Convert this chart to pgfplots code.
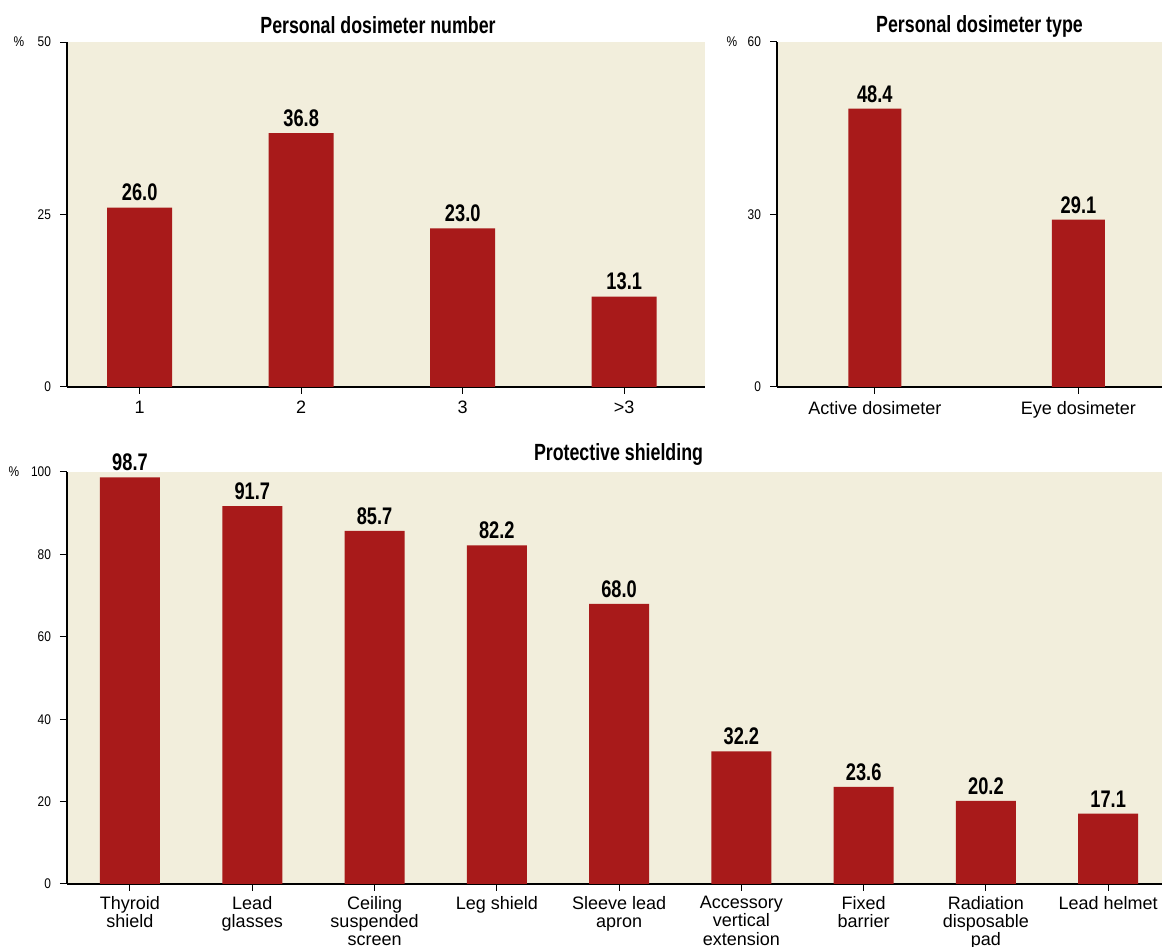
\documentclass[border=0pt]{standalone}
\usepackage{pgfplots}
\pgfplotsset{compat=1.18}
\usepackage{fontspec}
\setmainfont{Liberation Sans}
\newfontfamily\boldcond[FakeStretch=0.76]{Liberation Sans Bold}
\newfontfamily\tickfont[FakeStretch=0.85]{Liberation Sans}
\definecolor{cream}{HTML}{F2EEDC}
\definecolor{barred}{HTML}{A81A1A}
\pgfplotsset{
  myaxis/.style={
    scale only axis,
    axis background/.style={fill=cream},
    axis x line*=bottom, axis y line*=left,
    x axis line style={-, line width=0.8pt},
    y axis line style={-, line width=0.8pt},
    tick align=outside,
    major tick length=3.5pt,
    every tick/.style={black, line width=0.5pt},
    enlarge x limits=false, enlarge y limits=false,
    ymin=0,
    xtick=data,
    /pgf/number format/assume math mode=true,
    yticklabel style={font=\tickfont\fontsize{7}{8}\selectfont, xshift=-1pt},
    xticklabel style={font=\fontsize{9}{9.2}\selectfont, align=center, text depth=0pt},
    ybar,
    clip=false,
    nodes near coords={\pgfmathprintnumber[fixed,fixed zerofill,precision=1]{\pgfplotspointmeta}},
    every node near coord/.append style={font=\boldcond\fontsize{12}{13}\selectfont, inner sep=3pt},
    title style={at={(0.5,1)}, anchor=base, font=\boldcond\fontsize{11.7}{13}\selectfont},
  }
}
\begin{document}
\begin{tikzpicture}
\path[use as bounding box] (0,0) rectangle (581pt,473.5pt);
% Top left
\begin{axis}[myaxis,
  at={(33.5pt,280pt)}, anchor=south west,
  width=319pt, height=172.5pt,
  xmin=-0.45, xmax=3.5, ymax=50,
  ytick={0,25,50},
  xticklabels={1,2,3,>3},
  bar width=32.5pt,
  title={Personal dosimeter number},
  title style={yshift=-1.5pt, xshift=-4pt},
]
\addplot[fill=barred, draw=none] coordinates {(0,26.0) (1,36.8) (2,23.0) (3,13.1)};
\node[font=\tickfont\fontsize{7}{8}\selectfont] at (rel axis cs:0,1) [xshift=-24pt] {\%};
\end{axis}
% Top right
\begin{axis}[myaxis,
  at={(388.5pt,280pt)}, anchor=south west,
  width=192.5pt, height=172.5pt,
  xmin=-0.48, xmax=1.41, ymax=60,
  ytick={0,30,60},
  xticklabels={Active dosimeter,Eye dosimeter},
  bar width=26.5pt,
  title={Personal dosimeter type},
  title style={yshift=-1.5pt, xshift=5pt},
]
\addplot[fill=barred, draw=none] coordinates {(0,48.4) (1,29.1)};
\node[font=\tickfont\fontsize{7}{8}\selectfont] at (rel axis cs:0,1) [xshift=-22.5pt] {\%};
\end{axis}
% Bottom
\begin{axis}[myaxis,
  at={(33.5pt,31.5pt)}, anchor=south west,
  width=547.5pt, height=206pt,
  xmin=-0.515, xmax=8.44, ymax=100,
  ytick={0,20,40,60,80,100},
  xticklabels={{Thyroid\\shield},{Lead\\glasses},{Ceiling\\suspended\\screen},{Leg shield},{Sleeve lead\\apron},{Accessory\\vertical\\extension},{Fixed\\barrier},{Radiation\\disposable\\pad},{Lead helmet}},
  xticklabel style={anchor=north, yshift=1pt},
  bar width=30pt,
  title={Protective shielding},
  title style={yshift=-0.5pt, xshift=2pt},
]
\addplot[fill=barred, draw=none] coordinates {(0,98.7) (1,91.7) (2,85.7) (3,82.2) (4,68.0) (5,32.2) (6,23.6) (7,20.2) (8,17.1)};
\node[font=\tickfont\fontsize{7}{8}\selectfont] at (rel axis cs:0,1) [xshift=-26.5pt] {\%};
\end{axis}
\end{tikzpicture}
\end{document}
